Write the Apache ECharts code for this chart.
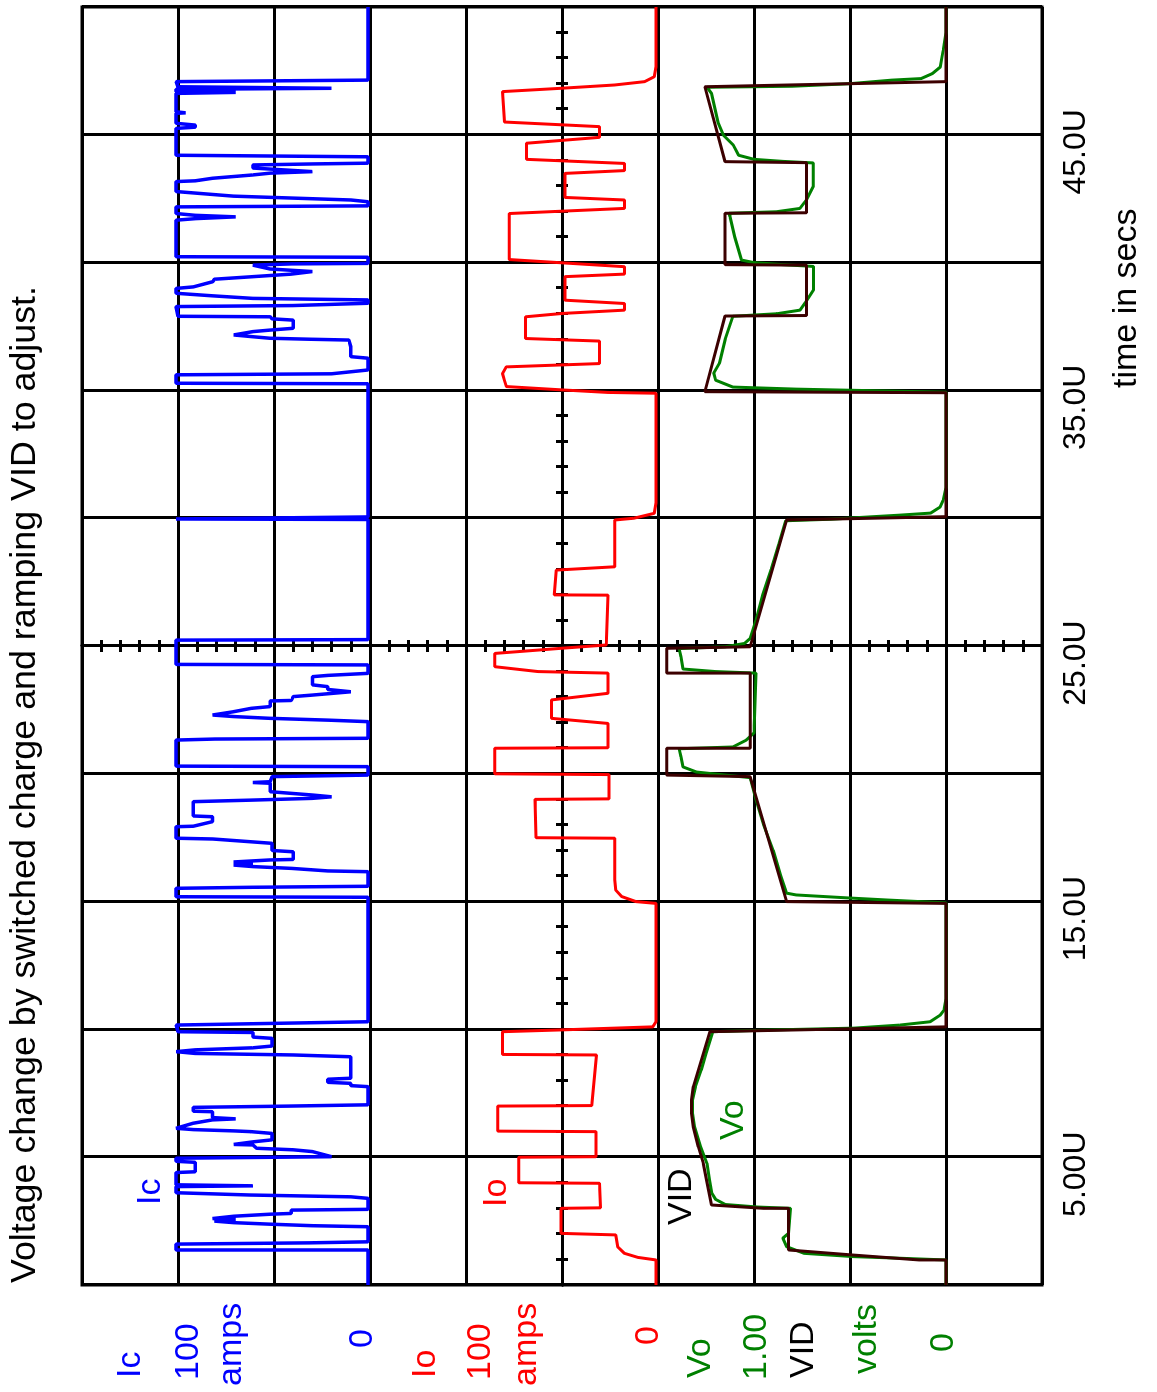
<!DOCTYPE html>
<html><head><meta charset="utf-8">
<script src="https://cdn.jsdelivr.net/npm/echarts@6/dist/echarts.min.js"></script>
<style>
html,body{margin:0;padding:0;width:1157px;height:1392px;overflow:hidden;background:#fff}
#chart{position:absolute;left:0;top:0;width:1392px;height:1157px;transform-origin:0 0;transform:translateY(1392px) rotate(-90deg);}
</style></head><body><div id="chart"></div>
<script>
// ---------------- DATA ----------------
const titleText = 'Voltage change by switched charge and ramping VID to adjust.';
const timeAxisName = 'time in secs';
const timeTickValues = [5, 15, 25, 35, 45];
const timeTickLabels = ['5.00U', '15.0U', '25.0U', '35.0U', '45.0U'];
const sideLabelTexts = ['Ic', '100', 'amps', '0', 'Io', '100', 'amps', '0', 'Vo', '1.00', 'VID', 'volts', '0'];
const traceLabelTexts = ['Ic', 'Io', 'VID', 'Vo'];

// Ic (amps) : [time in us, value]
const icData = [
 [0,1],[1.37,1],[1.37,101],[1.6,101],[1.65,31],[1.69,1],[2.28,1],[2.32,30],[2.38,52],[2.44,71],[2.5,81],[2.54,82],[2.56,70],[2.6,82],
 [2.69,71],[2.77,52],[2.8,41],[2.93,41],[2.96,1],[3.39,1],[3.45,10],[3.52,62],[3.61,101],[3.85,101],[3.88,61],[3.92,101],[4.4,101],
 [4.43,91],[4.8,91],[4.84,101],[4.96,101],[5.02,20],[5.22,30],[5.29,40],[5.35,59],[5.48,61],[5.5,71],[5.6,61],[5.68,51],[5.93,51],
 [6.0,62],[6.03,71],[6.08,92],[6.13,101],[6.2,101],[6.33,92],[6.46,82],[6.5,70],[6.55,82],[6.78,82],[6.8,92],[6.95,92],[7.0,42],
 [7.05,1],[7.76,1],[7.8,10],[7.89,10],[7.93,22],[8.05,22],[8.09,10],[8.93,10],[9.0,40],[9.06,91],[9.13,101],[9.2,91],[9.28,61],
 [9.35,51],[9.65,51],[9.7,61],[9.88,61],[9.91,100],[10.17,101],[10.3,1],
 [15.17,1],[15.19,101],[15.52,101],[15.56,62],[15.6,1],[16.17,1],[16.2,22],[16.24,23],[16.3,41],[16.37,61],[16.43,71],[16.5,61],
 [16.55,71],[16.63,52],[16.65,40],[16.95,40],[17.0,51],[17.28,51],[17.45,82],[17.48,101],[17.93,101],[17.95,92],[18.13,82],[18.32,82],
 [18.35,92],[18.91,92],[18.97,62],[19.04,30],[19.1,20],[19.17,30],[19.3,52],[19.63,52],[19.66,61],[19.69,52],[19.89,51],[19.95,1],
 [20.28,1],[20.3,101],[21.32,101],[21.36,81],[21.39,1],[22.04,1],[22.1,22],[22.17,52],[22.24,71],[22.3,82],[22.43,71],[22.56,62],
 [22.63,52],[22.85,52],[22.87,41],[23.02,40],[23.08,30],[23.21,10],[23.3,22],[23.41,22],[23.48,30],[23.8,30],[23.85,22],[23.93,1],
 [24.26,1],[24.28,101],[25.23,101],[25.25,1],[29.95,1],[29.97,101],[30.03,101],[30.05,1],
 [35.26,1],[35.28,101],[35.61,101],[35.65,20],[35.8,1],[36.26,1],[36.32,10],[36.71,10],[36.97,11],[37.0,30],[37.04,52],[37.1,61],
 [37.17,71],[37.22,71],[37.3,61],[37.36,52],[37.43,40],[37.75,40],[37.8,51],[37.88,52],[37.9,100],[38.28,101],[38.32,40],[38.41,1],
 [38.54,1],[38.56,21],[38.6,61],[38.7,82],[38.8,101],[38.99,101],[39.05,92],[39.25,82],[39.35,81],[39.45,61],[39.55,41],[39.65,30],
 [39.75,52],[39.9,61],[39.95,41],[39.97,1],[40.21,1],[40.23,101],[41.66,101],[41.72,91],[41.79,70],[41.85,91],[41.92,101],[42.18,101],
 [42.22,1],[42.38,1],[42.45,10],[42.6,71],[42.78,101],[43.17,101],[43.2,91],[43.3,82],[43.43,61],[43.5,52],[43.56,30],[43.7,61],
 [43.82,61],[43.86,30],[43.89,1],[44.14,1],[44.2,101],[45.25,101],[45.3,91],[45.38,91],[45.45,101],[45.84,101],[45.86,96],[45.9,101],
 [46.62,101],[46.66,70],[46.69,101],[46.78,101],[46.82,20],[46.88,100],[47.08,101],[47.14,1],[50,1]
];

// Io (amps)
const ioData = [
 [0,2],[0.98,2],[1.08,21],[1.24,35],[1.49,42],[1.96,44],[2.02,101],[3.0,101],[3.02,60],[3.98,61],[4.0,145],[5.0,145],[5.02,64.5],
 [6.0,64.5],[6.02,167],[7.0,167],[7.02,69],[9.0,64],[9.02,162],[9.91,162],[9.98,101],[10.1,5.5],[10.3,2],[14.93,2],[15.0,23],
 [15.2,38],[15.45,44],[15.85,45],[17.48,45],[17.5,127],[19.0,128],[19.02,51],[19.97,51],[20.0,170],[21.0,170],[21.02,52],[21.97,52],
 [22.17,111],[22.89,111],[23.15,52],[23.94,52],[24.0,125],[24.19,170],[24.71,170],[24.91,101],[25.04,54],[26.99,52],[27.0,108],
 [27.97,106],[28.1,45],[29.93,45],[30.0,25],[30.19,4],[30.6,2],[34.89,2],[34.92,52],[35.02,100],[35.15,158],[35.4,160],[35.66,162],
 [35.92,158],[36.05,61],[36.93,61],[37.03,138],[37.88,138],[38.01,100],[38.14,35],[38.4,35],[38.53,97],[39.45,97],[39.55,35],
 [39.84,35],[40.12,155],[41.92,155],[42.12,35],[42.45,35],[42.55,97],[43.49,97],[43.6,35],[43.88,35],[44.04,137],[44.67,137],
 [44.9,61],[45.32,61],[45.5,160],[46.69,162],[46.82,101],[46.95,45],[47.08,14],[47.27,4],[47.66,2],[50,2]
];

// Vo (volts)
const voData = [
 [0,0],[0.98,0],[1.05,0.25],[1.11,0.48],[1.24,0.74],[1.5,0.83],[1.83,0.85],[2.02,0.82],[3.0,0.81],[3.05,0.98],[3.15,1.15],[3.35,1.2],
 [3.6,1.22],[4.11,1.232],[4.76,1.245],[5.41,1.278],[6.19,1.31],[6.72,1.32],[7.24,1.32],[7.76,1.305],[8.41,1.275],[9.06,1.25],
 [9.91,1.215],[9.98,0.9],[10.05,0.48],[10.17,0.24],[10.3,0.083],[10.56,0.03],[10.76,0.01],[11.2,0],[14.95,0],[15.06,0.3],[15.14,0.5],
 [15.26,0.78],[15.33,0.83],[16,0.86],[17,0.9],[18,0.95],[19,0.99],[19.85,1.02],[19.95,1.15],[20.07,1.3],[20.27,1.37],[20.66,1.38],
 [20.98,1.39],[21.05,1.11],[21.32,1.04],[21.6,1.0],[23.94,0.99],[24.0,1.2],[24.1,1.37],[24.57,1.38],[24.9,1.39],[24.97,1.15],
 [25.1,1.05],[25.3,1.02],[26,0.99],[27,0.955],[28,0.91],[29,0.87],[29.9,0.835],[29.96,0.6],[30.05,0.4],[30.12,0.24],[30.2,0.08],
 [30.44,0.03],[30.7,0.015],[31.2,0],[34.93,0],[35.02,0.59],[35.05,0.78],[35.13,1.11],[35.4,1.2],[35.68,1.21],[36.07,1.18],[37.0,1.15],
 [37.9,1.11],[38.0,0.88],[38.14,0.76],[38.46,0.73],[38.93,0.69],[39.85,0.69],[39.92,0.85],[40.0,1.0],[40.1,1.065],[41.0,1.1],
 [41.8,1.125],[41.93,1.13],[41.99,0.883],[42.12,0.761],[42.45,0.727],[42.97,0.692],[43.9,0.692],[43.96,0.85],[44.04,1.0],[44.2,1.08],
 [44.6,1.108],[44.99,1.16],[45.45,1.186],[46.62,1.221],[46.86,1.245],[46.9,0.8],[47.0,0.5],[47.14,0.28],[47.2,0.13],[47.4,0.07],
 [47.65,0.03],[48.3,0.015],[49.0,0],[50,0]
];

// VID (volts)
const vidData = [
 [0,0],[0.98,0],[0.98,0.14],[1.17,0.48],[1.37,0.82],[3.0,0.82],[3.0,0.95],[3.13,1.221],[4.11,1.247],[4.76,1.264],[5.41,1.29],
 [6.19,1.316],[6.72,1.325],[7.24,1.325],[7.76,1.316],[8.41,1.29],[9.06,1.264],[9.91,1.23],[10.1,0],[14.93,0],[15.0,0.83],
 [19.89,1.02],[19.95,1.455],[21.0,1.455],[21.0,1.02],[23.94,1.02],[23.94,1.455],[24.91,1.455],[24.97,1.02],[29.93,0.83],[30.06,0],
 [34.91,0],[34.95,1.256],[37.91,1.151],[37.93,0.727],[39.9,0.727],[39.92,1.151],[41.93,1.151],[41.95,0.727],[43.91,0.727],
 [43.95,1.151],[46.88,1.256],[47.08,0],[50,0]
];

// ---------------- LAYOUT / STYLE ----------------
const FONT = '"Liberation Sans", Arial, Helvetica, sans-serif';
const FS = 34;
const BLUE = '#0000ff', RED = '#ff0000', GREEN = '#008000', DARK = '#3c0000', BLACK = '#000000';
const sideLabelColors = [BLUE, BLUE, BLUE, BLUE, RED, RED, RED, RED, GREEN, GREEN, BLACK, GREEN, GREEN];
// [left u, baseline v] in the unrotated chart frame
const sideLabelPos = [[14,142],[12,200],[6,243],[44,374],[14,437],[12,492],[6,538],[47,660],[14,712],[12,768],[14,815],[18,878],[40,955]];
const traceLabelColors = [BLUE, RED, BLACK, GREEN];
const traceLabelPos = [[187,162],[185,508],[167,693],[252,745]];

function txt(text, u, base, color, size) {
  return {type: 'text', x: u, y: base - 0.3465 * size, silent: true,
    style: {text: text, fill: color, font: size + 'px ' + FONT, align: 'left', verticalAlign: 'middle'}};
}

const graphics = [txt(titleText, 109, 38, BLACK, 35.8), txt(timeAxisName, 1004, 1138, BLACK, FS)];
sideLabelTexts.forEach((t, i) => graphics.push(txt(t, sideLabelPos[i][0], sideLabelPos[i][1], sideLabelColors[i], FS)));
traceLabelTexts.forEach((t, i) => graphics.push(txt(t, traceLabelPos[i][0], traceLabelPos[i][1], traceLabelColors[i], FS)));

const gridLine = {show: true, lineStyle: {color: BLACK, width: 3}};
const crossMinor = {show: true, splitNumber: 5, length: 6, lineStyle: {color: BLACK, width: 3}};
const crossLine = (idx) => ({show: true, onZero: true, onZeroAxisIndex: idx, lineStyle: {color: BLACK, width: 3}});

function lineSeries(name, data, yIdx, color, width) {
  return {name: name, type: 'line', data: data, xAxisIndex: 0, yAxisIndex: yIdx, showSymbol: false, symbol: 'none',
    lineStyle: {color: color, width: width}, itemStyle: {color: color}, animation: false, silent: true, z: 3};
}

const chart = echarts.init(document.getElementById('chart'), null, {renderer: 'canvas', width: 1392, height: 1157});
chart.setOption({
  animation: false,
  backgroundColor: '#ffffff',
  grid: {left: 107, right: 7, top: 82, bottom: 115, show: true, borderColor: BLACK, borderWidth: 3,
         backgroundColor: '#ffffff', containLabel: false, outerBoundsMode: 'none'},
  xAxis: [
    {type: 'value', min: 0, max: 50, interval: 5, position: 'bottom',
     axisLine: {show: false, onZero: false}, axisTick: {show: false}, splitLine: gridLine,
     axisLabel: {show: true, margin: 18, color: BLACK, fontSize: 32, fontFamily: FONT, padding: [0, 34, 0, 0],
       showMinLabel: true, showMaxLabel: true,
       formatter: (v) => { const k = timeTickValues.indexOf(Math.round(v)); return k >= 0 ? timeTickLabels[k] : ''; }}},
    {type: 'value', min: -25, max: 25, interval: 5, position: 'bottom', axisLine: crossLine(3),
     axisTick: {show: false}, minorTick: crossMinor, axisLabel: {show: false}, splitLine: {show: false}},
    {type: 'value', min: -25, max: 25, interval: 5, position: 'top', axisLine: crossLine(3),
     axisTick: {show: false}, minorTick: crossMinor, axisLabel: {show: false}, splitLine: {show: false}}
  ],
  yAxis: [
    {type: 'value', min: -350, max: 150, show: false},
    {type: 'value', min: -400, max: 600, show: false},
    {type: 'value', min: -0.5, max: 4.5, show: false},
    {type: 'value', min: -5, max: 5, interval: 1, position: 'left', axisLine: crossLine(1),
     axisTick: {show: false}, minorTick: crossMinor, axisLabel: {show: false}, splitLine: gridLine},
    {type: 'value', min: -5, max: 5, interval: 1, position: 'right', axisLine: crossLine(1),
     axisTick: {show: false}, minorTick: crossMinor, axisLabel: {show: false}, splitLine: {show: false}}
  ],
  series: [
    lineSeries('Ic', icData, 0, BLUE, 3.5),
    lineSeries('Io', ioData, 1, RED, 3),
    lineSeries('Vo', voData, 2, GREEN, 3),
    lineSeries('VID', vidData, 2, DARK, 3)
  ],
  graphic: graphics
});
</script></body></html>
